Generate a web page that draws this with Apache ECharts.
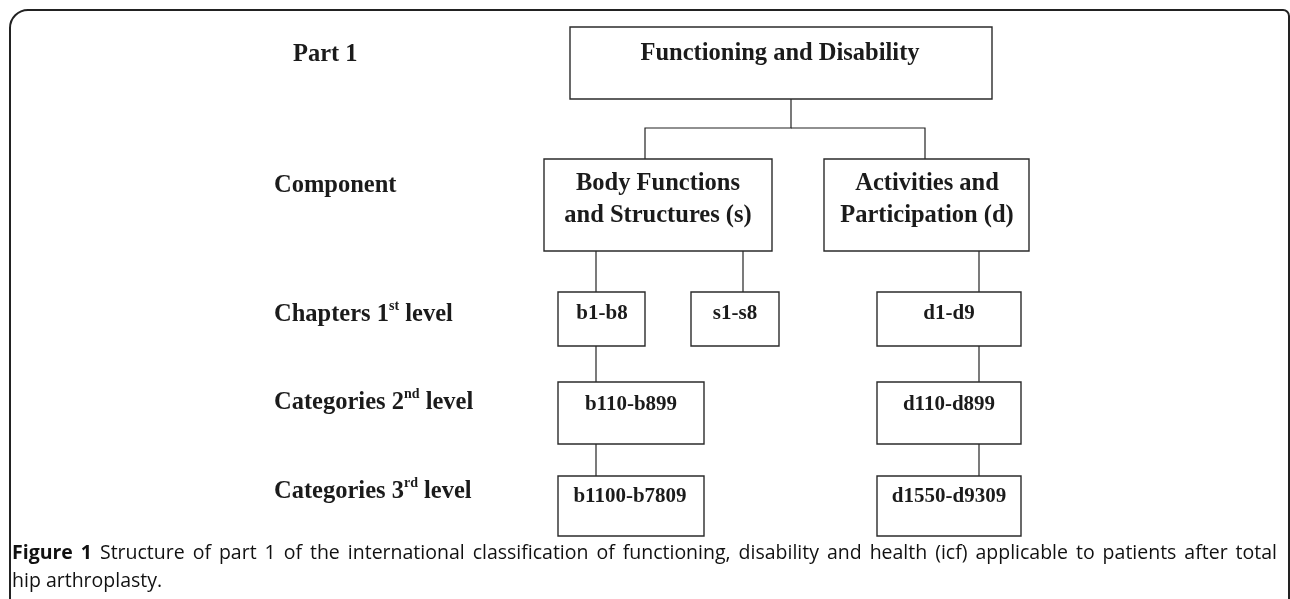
<!DOCTYPE html>
<html><head><meta charset="utf-8">
<script src="https://cdn.jsdelivr.net/npm/echarts@6/dist/echarts.min.js"></script>
<style>html,body{margin:0;padding:0;background:#fff}#c{width:1290px;height:599px}</style>
</head><body><div id="c"></div>
<script>
// ---- content ----
const levelLabels = [
  ['Part 1'],
  ['Component'],
  ['Chapters 1', 'st', ' level'],
  ['Categories 2', 'nd', ' level'],
  ['Categories 3', 'rd', ' level']
];
const nodeLabels = [
  'Functioning and Disability',
  'Body Functions\nand Structures (s)',
  'Activities and\nParticipation (d)',
  'b1-b8', 's1-s8', 'd1-d9',
  'b110-b899', 'd110-d899',
  'b1100-b7809', 'd1550-d9309'
];
const nodeParents = [null, 0, 0, 1, 1, 2, 3, 5, 6, 7];
const captionBold = 'Figure 1';
const captionLines = [
  'Structure of part 1 of the international classification of functioning, disability and health (icf) applicable to patients after total',
  'hip arthroplasty.'
];

// ---- layout (diagram units on a hidden 1290 x 599 cartesian scale) ----
const layout = {
  level: [[293, 54.2], [274, 185.7], [274, 314.7], [274, 402.7], [274, 491.7]],
  box: [
    [570, 27, 992, 99, 780, 53.5],
    [544, 159, 772, 251, 658, 199.7],
    [824, 159, 1029, 251, 927, 199.7],
    [558, 292, 645, 346, 602, 313.4],
    [691, 292, 779, 346, 735, 313.4],
    [877, 292, 1021, 346, 949, 313.4],
    [558, 382, 704, 444, 631, 404.4],
    [877, 382, 1021, 444, 949, 404.4],
    [558, 476, 704, 536, 630, 496.4],
    [877, 476, 1021, 536, 949, 496.4]
  ],
  edges: [
    [[791, 99], [791, 128], [645, 128], [645, 159]],
    [[791, 128], [925, 128], [925, 159]],
    [[596, 247], [596, 295]],
    [[743, 251], [743, 292]],
    [[979, 251], [979, 292]],
    [[596, 346], [596, 382]],
    [[979, 346], [979, 382]],
    [[596, 444], [596, 476]],
    [[979, 444], [979, 476]]
  ],
  captionLeft: 12, captionRight: 1277, captionTop: 539, captionSize: 19.5, captionScaleX: 1
};

const SERIF = '"Liberation Serif", "Times New Roman", serif';
const SANS = '"Open Sans", "Noto Sans", sans-serif';
const INK = '#1b1b1b';

// justified first caption line, built from measured word widths
const mctx = document.createElement('canvas').getContext('2d');
function wordWidth(w, bold) {
  mctx.font = (bold ? 'bold ' : '') + layout.captionSize + 'px ' + SANS;
  return mctx.measureText(w).width;
}
const boldWords = captionBold.split(' ');
const normWords = captionLines[0].split(' ');
let sum = 0;
boldWords.forEach(w => sum += wordWidth(w, true));
normWords.forEach(w => sum += wordWidth(w, false));
const nGaps = boldWords.length + normWords.length - 1;
const gap = ((layout.captionRight - layout.captionLeft) / layout.captionScaleX - sum) / nGaps;
const toks = boldWords.map(w => '{b|' + w + '}').concat(normWords.map(w => '{n|' + w + '}'));
const captionText = toks.join('{sp| }') + '\n{n|' + captionLines[1] + '}';

const chart = echarts.init(document.getElementById('c'), null, {renderer: 'canvas'});

const boxData = layout.box.map((b, i) => ({value: b, name: nodeLabels[i]}));
const levelData = layout.level.map((p, i) => ({value: p, name: levelLabels[i].join('')}));
const edgeData = layout.edges.map((e, i) => ({value: [i, 0]}));

const capTok = (w) => ({fontFamily: SANS, fontWeight: w, fontSize: layout.captionSize, lineHeight: 28, fill: '#111'});

chart.setOption({
  animation: false,
  backgroundColor: '#fff',
  grid: {left: 0, right: 0, top: 0, bottom: 0},
  xAxis: {type: 'value', min: 0, max: 1290, show: false},
  yAxis: {type: 'value', min: 0, max: 599, inverse: true, show: false},
  graphic: [{
    type: 'rect',
    shape: {x: 10, y: 10, width: 1279, height: 700, r: [18, 6, 0, 0]},
    style: {fill: 'none', stroke: '#222', lineWidth: 2},
    silent: true
  }, {
    type: 'text',
    x: layout.captionLeft, y: layout.captionTop, scaleX: layout.captionScaleX, originX: 0, originY: 0,
    silent: true,
    style: {
      text: captionText, align: 'left', verticalAlign: 'top',
      rich: {
        b: capTok('bold'),
        n: capTok('normal'),
        sp: Object.assign(capTok('normal'), {width: gap})
      }
    }
  }],
  series: [
    {
      type: 'custom', coordinateSystem: 'cartesian2d', silent: true,
      data: edgeData,
      renderItem: function (params, api) {
        const pts = layout.edges[params.dataIndex].map(p => api.coord(p));
        return {type: 'polyline', shape: {points: pts}, style: {fill: 'none', stroke: '#222', lineWidth: 1.2}};
      }
    },
    {
      type: 'custom', coordinateSystem: 'cartesian2d', silent: true,
      data: boxData,
      renderItem: function (params, api) {
        const p0 = api.coord([api.value(0), api.value(1)]);
        const p1 = api.coord([api.value(2), api.value(3)]);
        const t = api.coord([api.value(4), api.value(5)]);
        const i = params.dataIndex;
        const fs = i < 3 ? 24.5 : 21;
        return {type: 'group', children: [
          {type: 'rect', shape: {x: p0[0], y: p0[1], width: p1[0] - p0[0], height: p1[1] - p0[1]},
           style: {fill: '#fff', stroke: '#2b2b2b', lineWidth: 1.4}},
          {type: 'text', style: {text: nodeLabels[i], x: t[0], y: t[1], align: 'center', verticalAlign: 'middle',
            font: 'bold ' + fs + 'px ' + SERIF, lineHeight: 32, fill: INK}}
        ]};
      }
    },
    {
      type: 'custom', coordinateSystem: 'cartesian2d', silent: true,
      data: levelData,
      renderItem: function (params, api) {
        const p = api.coord([api.value(0), api.value(1)]);
        const parts = levelLabels[params.dataIndex];
        let txt = '{m|' + parts[0] + '}';
        if (parts.length > 1) txt += '{s|' + parts[1] + '}{m|' + parts[2] + '}';
        return {type: 'text', style: {
          text: txt, x: p[0], y: p[1], align: 'left', verticalAlign: 'middle',
          rich: {
            m: {font: 'bold 24.5px ' + SERIF, lineHeight: 30, verticalAlign: 'middle', fill: INK},
            s: {font: 'bold 14px ' + SERIF, lineHeight: 14, verticalAlign: 'top', fill: INK}
          }
        }};
      }
    }
  ]
});
</script>
</body></html>
